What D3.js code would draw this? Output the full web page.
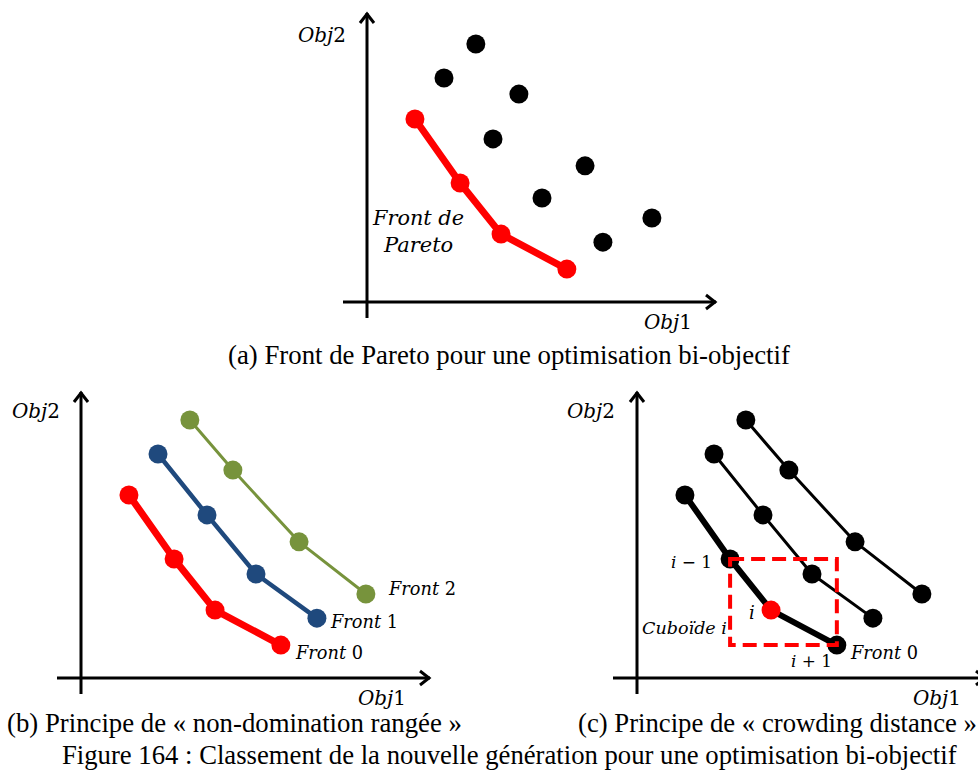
<!DOCTYPE html>
<html><head><meta charset="utf-8">
<script src="https://cdn.jsdelivr.net/npm/d3@7"></script>
<style>html,body{margin:0;padding:0;background:#fff;}svg{display:block;}</style>
</head><body>
<svg id="chart" width="978" height="778"></svg>
<script>
// ---- data (Obj1, Obj2 in arbitrary units) ----
const front0Obj1 = [13.7, 26.6, 38.3, 57.1];
const front0Obj2 = [52.3, 34.0, 19.4, 9.4];
const front1Obj1 = [22.0, 36.0, 50.0, 67.4];
const front1Obj2 = [64.0, 46.6, 29.7, 17.1];
const front2Obj1 = [31.1, 43.4, 62.3, 81.4];
const front2Obj2 = [73.7, 59.4, 38.9, 24.0];
const crowdIndex = 2; // point i on front 0
const captions = [
  "(a) Front de Pareto pour une optimisation bi-objectif",
  "(b) Principe de « non-domination rangée »",
  "(c) Principe de « crowding distance »",
  "Figure 164 : Classement de la nouvelle génération pour une optimisation bi-objectif"
];
const frontLabels = ["Front 0", "Front 1", "Front 2"];

const RED = "#ff0000", BLUE = "#1f497d", GREEN = "#77933c", BLACK = "#000";
const svg = d3.select("#chart");
const zip = (a, b) => a.map((v, i) => [v, b[i]]);
const F0 = zip(front0Obj1, front0Obj2), F1 = zip(front1Obj1, front1Obj2), F2 = zip(front2Obj1, front2Obj2);

function panel(ox, oy, ytop) {
  const x = d3.scaleLinear().domain([0, 100]).range([ox, ox + 350]);
  const y = d3.scaleLinear().domain([0, 100]).range([oy, oy - 350]);
  const g = svg.append("g");
  const ax = g.append("g").attr("stroke", BLACK).attr("stroke-width", 3).attr("fill", "none");
  ax.append("line").attr("x1", ox).attr("x2", ox).attr("y1", oy + 16).attr("y2", ytop);
  ax.append("path").attr("d", `M${ox - 7},${ytop + 10}L${ox},${ytop + 1}L${ox + 7},${ytop + 10}`);
  const xe = ox + 349;
  ax.append("line").attr("x1", ox - 24).attr("x2", xe).attr("y1", oy).attr("y2", oy);
  ax.append("path").attr("d", `M${xe - 10},${oy - 7}L${xe - 1},${oy}L${xe - 10},${oy + 7}`);
  return {g, x, y};
}

// math-style label: italic letters, upright digits; font size fitted to width w
function mathLabel(g, parts, x, y, w, size) {
  const base = size || 18;
  const t = g.append("text").attr("x", x).attr("y", y)
    .style("font-family", "'DejaVu Serif', serif").style("font-size", base + "px").attr("fill", BLACK);
  parts.forEach(p => t.append("tspan").style("font-style", p[1] ? "italic" : "normal").text(p[0]));
  if (w) {
    const m = t.node().getComputedTextLength();
    t.style("font-size", Math.min(21, base * w / m).toFixed(2) + "px");
  }
  return t;
}

function drawFront(P, data, color, lw, r, pointColors) {
  const line = d3.line().x(d => P.x(d[0])).y(d => P.y(d[1]));
  P.g.append("path").datum(data).attr("d", line).attr("fill", "none")
    .attr("stroke", color).attr("stroke-width", lw).attr("stroke-linejoin", "round");
  P.g.selectAll(null).data(data).enter().append("circle")
    .attr("cx", d => P.x(d[0])).attr("cy", d => P.y(d[1])).attr("r", r)
    .attr("fill", (d, i) => pointColors ? pointColors[i] : color);
}

// ---- panel (a) ----
const A = panel(367, 302, 13);
A.g.selectAll(null).data(F1.concat(F2)).enter().append("circle")
  .attr("cx", d => A.x(d[0])).attr("cy", d => A.y(d[1])).attr("r", 9.5).attr("fill", BLACK);
drawFront(A, F0, RED, 7, 9.5);
mathLabel(A.g, [["Obj", 1], ["2", 0]], 298, 42, 48, 19);
mathLabel(A.g, [["Obj", 1], ["1", 0]], 644, 329, 48, 19);
mathLabel(A.g, [["Front de", 1]], 373, 225, 91, 19);
mathLabel(A.g, [["Pareto", 1]], 384, 252, 70, 19);

// ---- panel (b) ----
const B = panel(81, 678, 392);
drawFront(B, F2, GREEN, 3, 9.5);
drawFront(B, F1, BLUE, 4.5, 9.5);
drawFront(B, F0, RED, 7, 9.5);
mathLabel(B.g, [["Obj", 1], ["2", 0]], 12, 418, 48, 19);
mathLabel(B.g, [["Obj", 1], ["1", 0]], 358, 705, 48, 19);
const bLabelPos = [[296, 659], [331, 628], [389, 595]];
frontLabels.forEach((s, k) => {
  const parts = s.split(" ");
  mathLabel(B.g, [[parts[0] + " ", 1], [parts[1], 0]], bLabelPos[k][0], bLabelPos[k][1], 67, 18);
});

// ---- panel (c) ----
const C = panel(637, 678, 392);
drawFront(C, F2, BLACK, 3, 9.5);
drawFront(C, F1, BLACK, 3, 9.5);
drawFront(C, F0, BLACK, 6, 9.5, F0.map((d, i) => i === crowdIndex ? RED : BLACK));
const pPrev = F0[crowdIndex - 1], pNext = F0[crowdIndex + 1];
C.g.append("rect")
  .attr("x", C.x(pPrev[0])).attr("y", C.y(pPrev[1]))
  .attr("width", C.x(pNext[0]) - C.x(pPrev[0])).attr("height", C.y(pNext[1]) - C.y(pPrev[1]))
  .attr("fill", "none").attr("stroke", RED).attr("stroke-width", 4).attr("stroke-dasharray", "14,7");
mathLabel(C.g, [["Obj", 1], ["2", 0]], 567, 418, 48, 19);
mathLabel(C.g, [["Obj", 1], ["1", 0]], 913, 705, 48, 19);
mathLabel(C.g, [["i", 1], [" − 1", 0]], 671, 568, 41, 18);
mathLabel(C.g, [["i", 1]], 749, 619, null, 18);
mathLabel(C.g, [["Cuboïde i", 1]], 642, 634, 85, 17);
mathLabel(C.g, [["i", 1], [" + 1", 0]], 791, 667, 41, 18);
mathLabel(C.g, [["Front ", 1], ["0", 0]], 851, 659, 67, 18);

// ---- captions (Liberation Serif, sized to the reference widths) ----
const capPos = [[228, 364, 562], [7, 732, 455], [578, 732, 399], [62, 764, 895]];
captions.forEach((s, k) => {
  const t = svg.append("text").attr("x", capPos[k][0]).attr("y", capPos[k][1])
    .style("font-family", "'Liberation Serif', serif").style("font-size", "22px").attr("fill", BLACK).text(s);
  const w = t.node().getComputedTextLength();
  t.style("font-size", (22 * capPos[k][2] / w).toFixed(2) + "px");
});
</script>
</body></html>
